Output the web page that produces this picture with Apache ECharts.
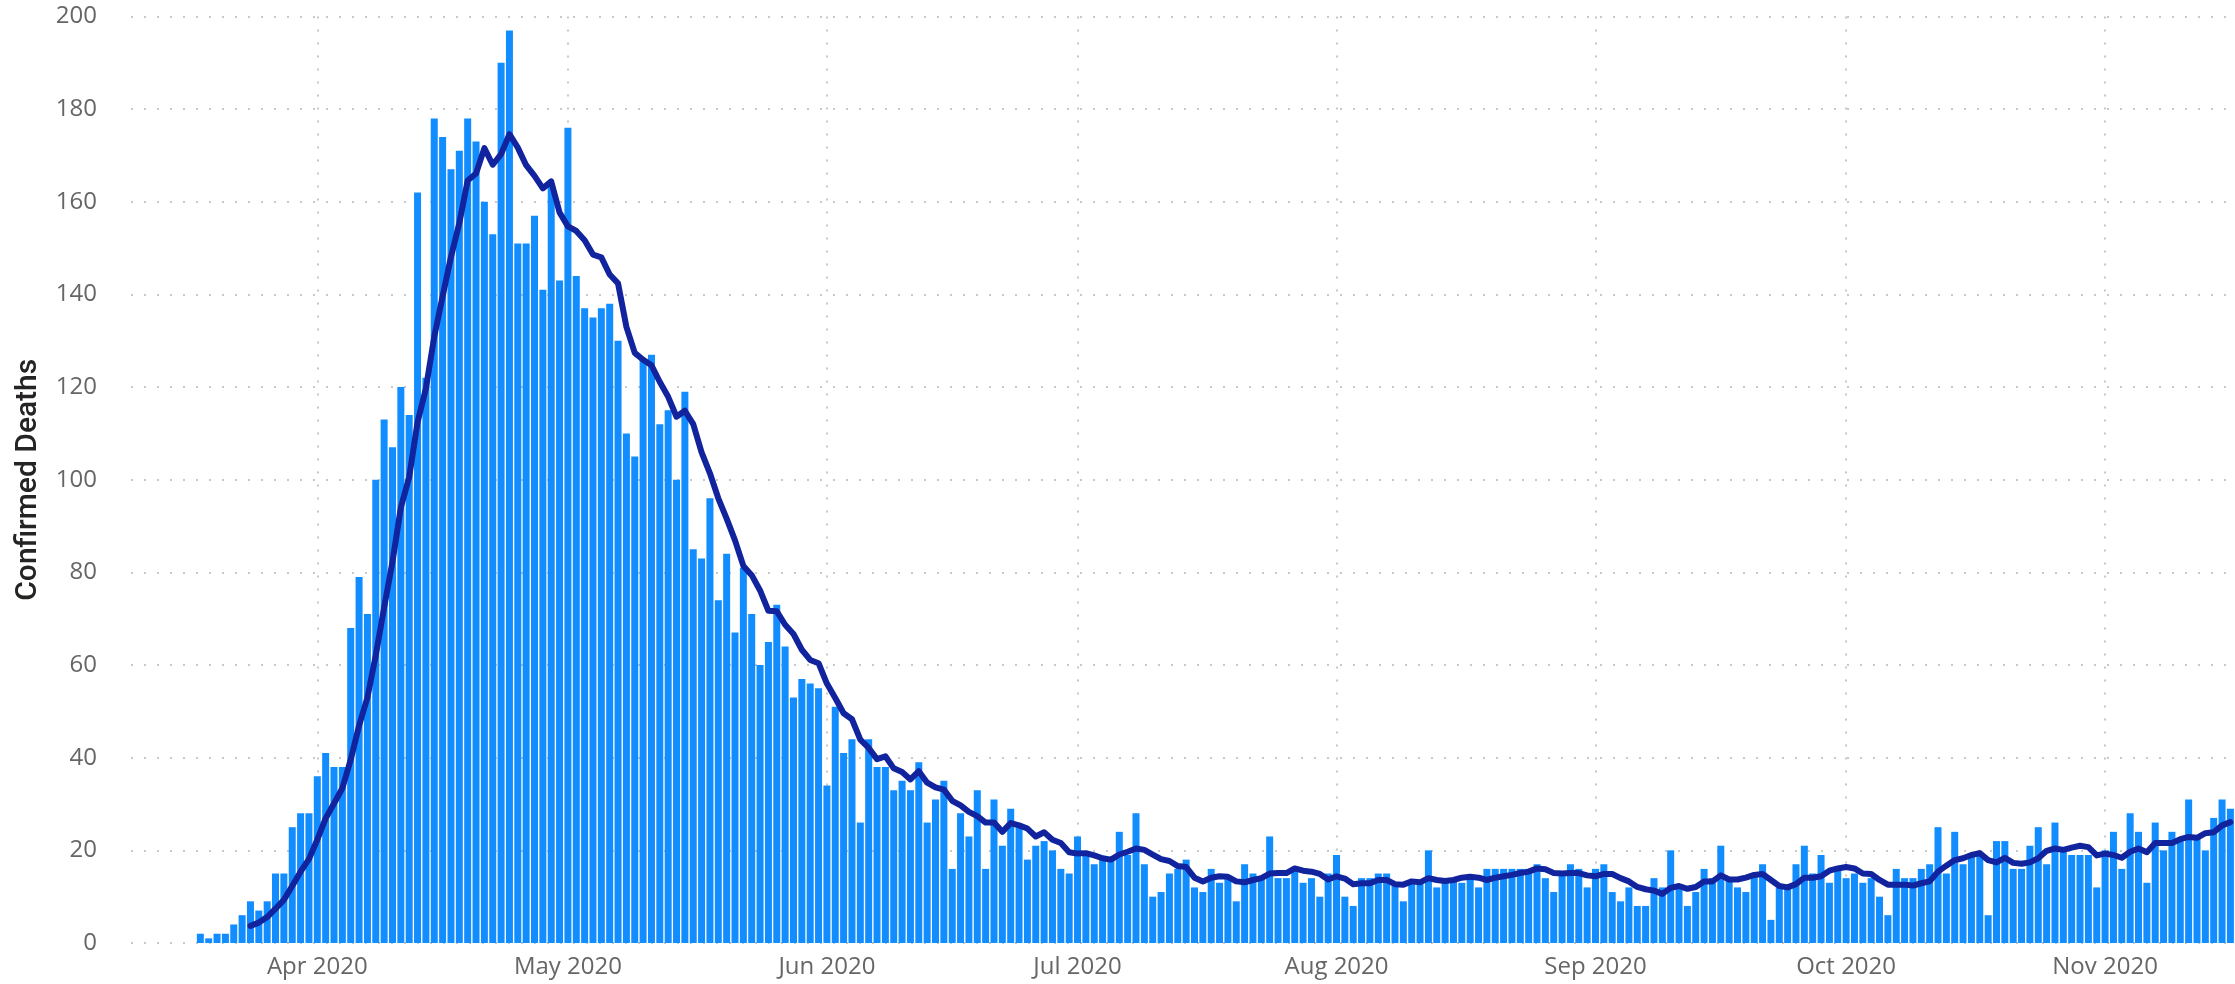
<!DOCTYPE html>
<html>
<head>
<meta charset="utf-8">
<script src="https://cdn.jsdelivr.net/npm/echarts@6/dist/echarts.min.js"></script>
<style>
  html, body { margin: 0; padding: 0; background: #ffffff; }
  #chart { width: 2235px; height: 984px; }
</style>
</head>
<body>
<div id="chart"></div>
<script>
// ---- Data ----
const startDate = '2020-03-18';

const dailyDeaths = [
  2, 1, 2, 2, 4, 6, 9, 7, 9, 15,
  15, 25, 28, 28, 36, 41, 38, 38, 68, 79,
  71, 100, 113, 107, 120, 114, 162, 122, 178, 174,
  167, 171, 178, 173, 160, 153, 190, 197, 151, 151,
  157, 141, 164, 143, 176, 144, 137, 135, 137, 138,
  130, 110, 105, 126, 127, 112, 115, 100, 119, 85,
  83, 96, 74, 84, 67, 81, 71, 60, 65, 73,
  64, 53, 57, 56, 55, 34, 51, 41, 44, 26,
  44, 38, 38, 33, 35, 33, 39, 26, 31, 35,
  16, 28, 23, 33, 16, 31, 21, 29, 25, 18,
  21, 22, 20, 16, 15, 23, 19, 17, 18, 18,
  24, 19, 28, 17, 10, 11, 15, 16, 18, 12,
  11, 16, 13, 14, 9, 17, 15, 14, 23, 14,
  14, 16, 13, 14, 10, 15, 19, 10, 8, 14,
  14, 15, 15, 13, 9, 13, 13, 20, 12, 14,
  14, 13, 14, 12, 16, 16, 16, 16, 16, 16,
  17, 14, 11, 15, 17, 16, 12, 16, 17, 11,
  9, 12, 8, 8, 14, 12, 20, 12, 8, 11,
  16, 14, 21, 14, 12, 11, 15, 17, 5, 12,
  12, 17, 21, 15, 19, 13, 16, 14, 15, 13,
  14, 10, 6, 16, 14, 14, 16, 17, 25, 15,
  24, 17, 19, 19, 6, 22, 22, 16, 16, 21,
  25, 17, 26, 20, 19, 19, 19, 12, 20, 24,
  16, 28, 24, 13, 26, 20, 24, 22, 31, 23,
  20, 27, 31, 29
];

// 7-day average line as drawn in the reference (starts on the 7th day)
const avg7 = [
  null, null, null, null, null, null, 3.7, 4.4, 5.6, 7.4,
  9.3, 12.3, 15.4, 18.1, 22.3, 26.9, 30.1, 33.4, 39.6, 46.9,
  53.0, 62.1, 72.4, 82.3, 94.0, 100.6, 112.4, 119.7, 130.9, 139.6,
  148.1, 155.4, 164.6, 166.1, 171.6, 168.0, 170.3, 174.6, 171.7, 167.9,
  165.6, 162.9, 164.4, 157.7, 154.7, 153.7, 151.7, 148.6, 148.0, 144.3,
  142.4, 133.0, 127.4, 125.9, 124.7, 121.1, 117.9, 113.6, 114.9, 112.0,
  105.9, 101.4, 96.0, 91.6, 86.9, 81.4, 79.4, 76.1, 71.7, 71.6,
  68.7, 66.7, 63.3, 61.1, 60.4, 56.0, 52.9, 49.6, 48.3, 43.9,
  42.1, 39.7, 40.3, 37.7, 36.9, 35.3, 37.1, 34.6, 33.6, 33.1,
  30.7, 29.7, 28.3, 27.4, 26.0, 26.0, 24.0, 25.9, 25.4, 24.7,
  23.0, 23.9, 22.3, 21.6, 19.6, 19.3, 19.4, 18.9, 18.3, 18.0,
  19.1, 19.7, 20.4, 20.1, 19.1, 18.1, 17.7, 16.6, 16.4, 14.1,
  13.3, 14.1, 14.4, 14.3, 13.3, 13.1, 13.6, 14.0, 15.0, 15.1,
  15.1, 16.1, 15.6, 15.4, 14.9, 13.7, 14.4, 13.9, 12.7, 12.9,
  12.9, 13.6, 13.6, 12.7, 12.6, 13.3, 13.1, 14.0, 13.6, 13.4,
  13.6, 14.1, 14.3, 14.1, 13.6, 14.1, 14.4, 14.7, 15.1, 15.4,
  16.1, 15.9, 15.1, 15.0, 15.1, 15.1, 14.6, 14.4, 14.9, 14.9,
  14.0, 13.3, 12.1, 11.6, 11.3, 10.6, 11.9, 12.3, 11.7, 12.1,
  13.3, 13.3, 14.6, 13.7, 13.7, 14.1, 14.7, 14.9, 13.6, 12.3,
  12.0, 12.7, 14.1, 14.1, 14.4, 15.6, 16.1, 16.4, 16.1, 15.0,
  14.9, 13.6, 12.6, 12.6, 12.6, 12.4, 12.9, 13.3, 15.4, 16.7,
  17.9, 18.3, 19.0, 19.4, 17.9, 17.4, 18.4, 17.3, 17.1, 17.4,
  18.3, 19.9, 20.4, 20.1, 20.6, 21.0, 20.7, 18.9, 19.3, 19.0,
  18.4, 19.7, 20.4, 19.6, 21.6, 21.6, 21.6, 22.4, 22.9, 22.7,
  23.7, 23.9, 25.4, 26.1
];

const monthStarts = ['2020-04-01', '2020-05-01', '2020-06-01', '2020-07-01',
                     '2020-08-01', '2020-09-01', '2020-10-01', '2020-11-01'];
const monthLabels = ['Apr 2020', 'May 2020', 'Jun 2020', 'Jul 2020',
                     'Aug 2020', 'Sep 2020', 'Oct 2020', 'Nov 2020'];

const yTicks = { min: 0, max: 200, interval: 20 };
const yAxisTitle = 'Confirmed Deaths';

// ---- Helpers ----
function dayIndex(s) {
  const p = s.split('-').map(Number);
  const p0 = startDate.split('-').map(Number);
  return Math.round((Date.UTC(p[0], p[1] - 1, p[2]) - Date.UTC(p0[0], p0[1] - 1, p0[2])) / 86400000);
}
const monthIdx = monthStarts.map(dayIndex);
const barData = dailyDeaths.map((v, i) => [i, v]);
const lineData = [];
avg7.forEach((v, i) => { if (v !== null) lineData.push([i, v]); });

const gridDots = { type: [2, 11], width: 2, color: '#c8c8c8' };
const tickFont = '"Segoe UI", "Open Sans", "Noto Sans", sans-serif';

const chart = echarts.init(document.getElementById('chart'), null, { renderer: 'canvas' });
chart.setOption({
  animation: false,
  backgroundColor: '#ffffff',
  grid: { left: 131, right: 0, top: 16.5, bottom: 41, outerBoundsMode: 'none', containLabel: false },
  xAxis: {
    type: 'value',
    min: -8.3,
    max: 243.55,
    axisLine: { show: false },
    axisTick: { show: false, customValues: monthIdx },
    axisLabel: {
      customValues: monthIdx,
      formatter: function (v) { const k = monthIdx.indexOf(Math.round(v)); return k >= 0 ? monthLabels[k] : ''; },
      fontSize: 24, color: '#666666', fontFamily: tickFont, margin: 12
    },
    splitLine: { show: true, lineStyle: gridDots }
  },
  yAxis: {
    type: 'value',
    min: yTicks.min, max: yTicks.max, interval: yTicks.interval,
    axisLine: { show: false },
    axisTick: { show: false },
    axisLabel: { fontSize: 24, color: '#666666', fontFamily: tickFont, margin: 34 },
    splitLine: { show: true, lineStyle: gridDots },
    name: yAxisTitle,
    nameLocation: 'middle',
    nameGap: 88,
    nameTextStyle: { fontSize: 30, fontWeight: 500, fontFamily: 'Roboto, "Noto Sans", sans-serif', color: '#252423' }
  },
  series: [
    {
      type: 'bar',
      data: barData,
      barWidth: 7,
      itemStyle: { color: '#118DFF' },
      silent: true,
      z: 2
    },
    {
      type: 'line',
      data: lineData,
      showSymbol: false,
      symbol: 'none',
      lineStyle: { color: '#12239E', width: 6, join: 'round', cap: 'round' },
      silent: true,
      z: 3
    }
  ]
});
</script>
</body>
</html>
